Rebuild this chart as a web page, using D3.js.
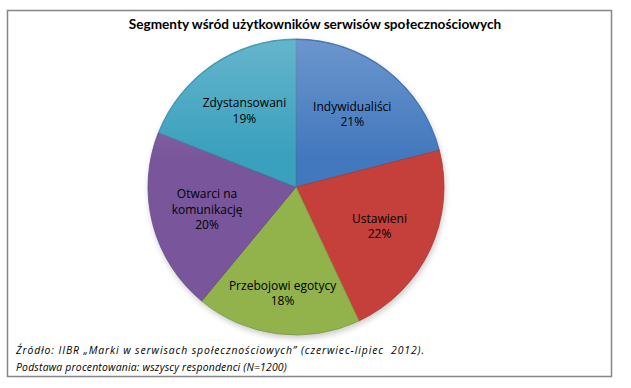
<!DOCTYPE html>
<html><head><meta charset="utf-8">
<script src="https://cdn.jsdelivr.net/npm/d3@7"></script>
<style>
html,body{margin:0;padding:0;background:#fff;}
svg{display:block;}
</style></head>
<body>
<script>
const categories = ["Indywidualiści", "Ustawieni", "Przebojowi egotycy", "Otwarci na komunikację", "Zdystansowani"];
const labelLines = [["Indywidualiści"], ["Ustawieni"], ["Przebojowi egotycy"], ["Otwarci na", "komunikację"], ["Zdystansowani"]];
const values = [21, 22, 18, 20, 19];
const colors = ["#4a86d4", "#db4740", "#a2c653", "#8760ad", "#3fb2d2"];
const title = "Segmenty wśród użytkowników serwisów społecznościowych";
const notes = ["Źródło: IIBR „Marki w serwisach społecznościowych” (czerwiec-lipiec  2012).", "Podstawa procentowania: wszyscy respondenci (N=1200)"];

const W = 631, H = 388;
const svg = d3.select("body").append("svg").attr("width", W).attr("height", H);
const defs = svg.append("defs");

svg.append("rect").attr("x", 7.5).attr("y", 10.5).attr("width", 604).attr("height", 366)
  .attr("fill", "#fff").attr("stroke", "#868686").attr("stroke-width", 1.5);

svg.append("text").attr("x", 315).attr("y", 29).attr("text-anchor", "middle")
  .attr("font-family", "Lato, 'Open Sans', sans-serif").attr("font-weight", "bold")
  .attr("font-size", 13.6).attr("fill", "#000").text(title);

const cx = 296, cy = 187, R = 148;

// shadow
const f = defs.append("filter").attr("id", "sh").attr("x", "-20%").attr("y", "-20%").attr("width", "140%").attr("height", "140%");
f.append("feGaussianBlur").attr("stdDeviation", 3);
svg.append("circle").attr("cx", cx + 1).attr("cy", cy + 3).attr("r", R)
  .attr("fill", "#000").attr("opacity", 0.22).attr("filter", "url(#sh)");

colors.forEach((c, i) => {
  const g = defs.append("radialGradient").attr("id", "g" + i)
    .attr("gradientUnits", "userSpaceOnUse").attr("cx", cx).attr("cy", cy).attr("r", R)
    .attr("fx", cx).attr("fy", cy);
  g.append("stop").attr("offset", "0%").attr("stop-color", d3.color(c).brighter(0.05));
  g.append("stop").attr("offset", "88%").attr("stop-color", c);
  g.append("stop").attr("offset", "100%").attr("stop-color", d3.color(c).darker(0.3));
});

const pie = d3.pie().sort(null).value(d => d);
const arcs = pie(values);
const arc = d3.arc().innerRadius(0).outerRadius(R);
const gPie = svg.append("g").attr("transform", `translate(${cx},${cy})`);

gPie.selectAll("path.s").data(arcs).join("path").attr("class", "s")
  .attr("d", arc).attr("fill", (d, i) => `url(#g${i})`)
  .attr("stroke", (d, i) => d3.color(colors[i]).darker(0.7)).attr("stroke-width", 0.8);

// top highlight
const hl = defs.append("linearGradient").attr("id", "hl").attr("x1", 0).attr("y1", 0).attr("x2", 0).attr("y2", 1);
hl.append("stop").attr("offset", "0%").attr("stop-color", "#fff").attr("stop-opacity", 0.22);
hl.append("stop").attr("offset", "40%").attr("stop-color", "#fff").attr("stop-opacity", 0.0);
gPie.append("circle").attr("r", R - 1).attr("fill", "url(#hl)").attr("pointer-events", "none");

const lab = gPie.selectAll("text.l").data(arcs).join("text").attr("class", "l")
  .attr("font-family", "'Open Sans', 'DejaVu Sans', sans-serif").attr("font-size", 12)
  .attr("fill", "#000").attr("text-anchor", "middle")
  .attr("transform", d => {
    const a = (d.startAngle + d.endAngle) / 2;
    const k = 0.62 + 0.11 * Math.pow(Math.max(0, -Math.cos(a)), 4);
    return `translate(${Math.sin(a) * R * k},${-Math.cos(a) * R * k})`;
  });
lab.each(function (d, i) {
  const lines = labelLines[i].concat([d.data + "%"]);
  const t = d3.select(this);
  const n = lines.length;
  lines.forEach((s, j) => {
    t.append("tspan").attr("x", 0).attr("y", (j - (n - 1) / 2) * 15.5 + 4).text(s);
  });
});

const notesSel = svg.selectAll("text.n").data(notes).join("text").attr("class", "n")
  .attr("x", 16).attr("y", (d, i) => 354 + i * 17)
  .attr("font-family", "'Open Sans', sans-serif").attr("font-style", "italic")
  .attr("font-size", 10.4).attr("fill", "#000")
  .style("white-space", "pre")
  .text(d => d);
notesSel.filter((d, i) => i === 0).attr("textLength", 408).attr("lengthAdjust", "spacing");
notesSel.filter((d, i) => i === 1).attr("letter-spacing", 0.2);
</script>
</body></html>
